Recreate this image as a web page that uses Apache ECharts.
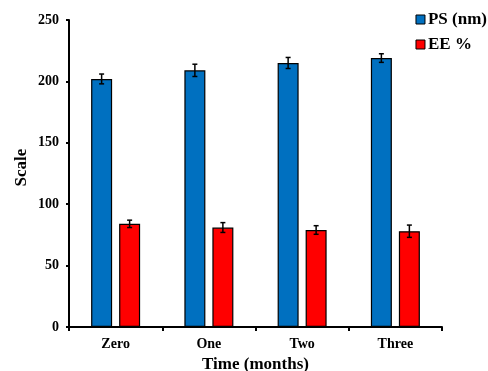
<!DOCTYPE html>
<html><head><meta charset="utf-8">
<script src="https://cdn.jsdelivr.net/npm/echarts@6/dist/echarts.min.js"></script>
<style>html,body{margin:0;padding:0;background:#fff}#c{width:488px;height:371px}</style>
</head><body><div id="c"></div>
<script>
var categories = ['Zero', 'One', 'Two', 'Three'];
var psValues = [202, 209, 215, 219];
var psErrors = [4, 5, 4.5, 3.5];
var eeValues = [84, 81, 79, 78];
var eeErrors = [3, 4, 3.5, 5];
var yTicks = [0, 50, 100, 150, 200, 250];

var font = '"Liberation Serif", "Times New Roman", serif';
var BW = 21, GAP = 7;

function errSeries(name, vals, errs, offset) {
  return {
    type: 'custom', name: name + ' err', z: 10, silent: true,
    data: vals.map(function (v, i) { return [i, v - errs[i], v + errs[i]]; }),
    renderItem: function (params, api) {
      var lo = api.coord([api.value(0), api.value(1)]);
      var hi = api.coord([api.value(0), api.value(2)]);
      var x = lo[0] + offset, c = 2.5;
      var st = { stroke: '#000', lineWidth: 1.5 };
      return { type: 'group', children: [
        { type: 'line', shape: { x1: x, y1: lo[1], x2: x, y2: hi[1] }, style: st },
        { type: 'line', shape: { x1: x - c, y1: lo[1], x2: x + c, y2: lo[1] }, style: st },
        { type: 'line', shape: { x1: x - c, y1: hi[1], x2: x + c, y2: hi[1] }, style: st }
      ]};
    }
  };
}

var chart = echarts.init(document.getElementById('c'), null, { renderer: 'canvas' });
chart.setOption({
  animation: false,
  textStyle: { fontFamily: font },
  legend: {
    orient: 'vertical', right: 1, top: 11, padding: 0, itemWidth: 9, itemHeight: 9, itemGap: 8,
    icon: 'rect',
    textStyle: { fontFamily: font, fontWeight: 'bold', fontSize: 17, color: '#000', padding: [0, 0, 0, -2] },
    data: [
      { name: 'PS (nm)', itemStyle: { color: '#0070C0', borderColor: '#000', borderWidth: 1 } },
      { name: 'EE %', itemStyle: { color: '#FF0000', borderColor: '#000', borderWidth: 1 } }
    ]
  },
  grid: { left: 69, right: 46, top: 20, bottom: 44, containLabel: false, outerBoundsMode: 'none' },
  xAxis: {
    type: 'category', data: categories,
    name: 'Time (months)', nameLocation: 'middle', nameGap: 28,
    nameTextStyle: { fontFamily: font, fontWeight: 'bold', fontSize: 17, color: '#000' },
    axisLine: { lineStyle: { color: '#000', width: 2 } },
    axisTick: { show: true, length: 4, inside: false, lineStyle: { color: '#000', width: 2 } },
    axisLabel: { fontFamily: font, fontWeight: 'bold', fontSize: 14, color: '#000', margin: 10 }
  },
  yAxis: {
    type: 'value', min: yTicks[0], max: yTicks[yTicks.length - 1], interval: 50,
    name: 'Scale', nameLocation: 'middle', nameGap: 39, nameMoveOverlap: false,
    nameTextStyle: { fontFamily: font, fontWeight: 'bold', fontSize: 17, color: '#000', padding: [0, 0, 0, 12] },
    axisLine: { show: true, lineStyle: { color: '#000', width: 2 } },
    axisTick: { show: true, length: 3, lineStyle: { color: '#000', width: 2 } },
    splitLine: { show: false },
    axisLabel: { fontFamily: font, fontWeight: 'bold', fontSize: 14, color: '#000', margin: 10 }
  },
  series: [
    { name: 'PS (nm)', type: 'bar', data: psValues, barWidth: BW, barGap: (GAP / BW * 100) + '%',
      itemStyle: { color: '#0070C0', borderColor: '#000', borderWidth: 1.2 } },
    { name: 'EE %', type: 'bar', data: eeValues, barWidth: BW,
      itemStyle: { color: '#FF0000', borderColor: '#000', borderWidth: 1.2 } },
    errSeries('PS (nm)', psValues, psErrors, -(BW + GAP) / 2),
    errSeries('EE %', eeValues, eeErrors, (BW + GAP) / 2)
  ]
});
</script></body></html>
